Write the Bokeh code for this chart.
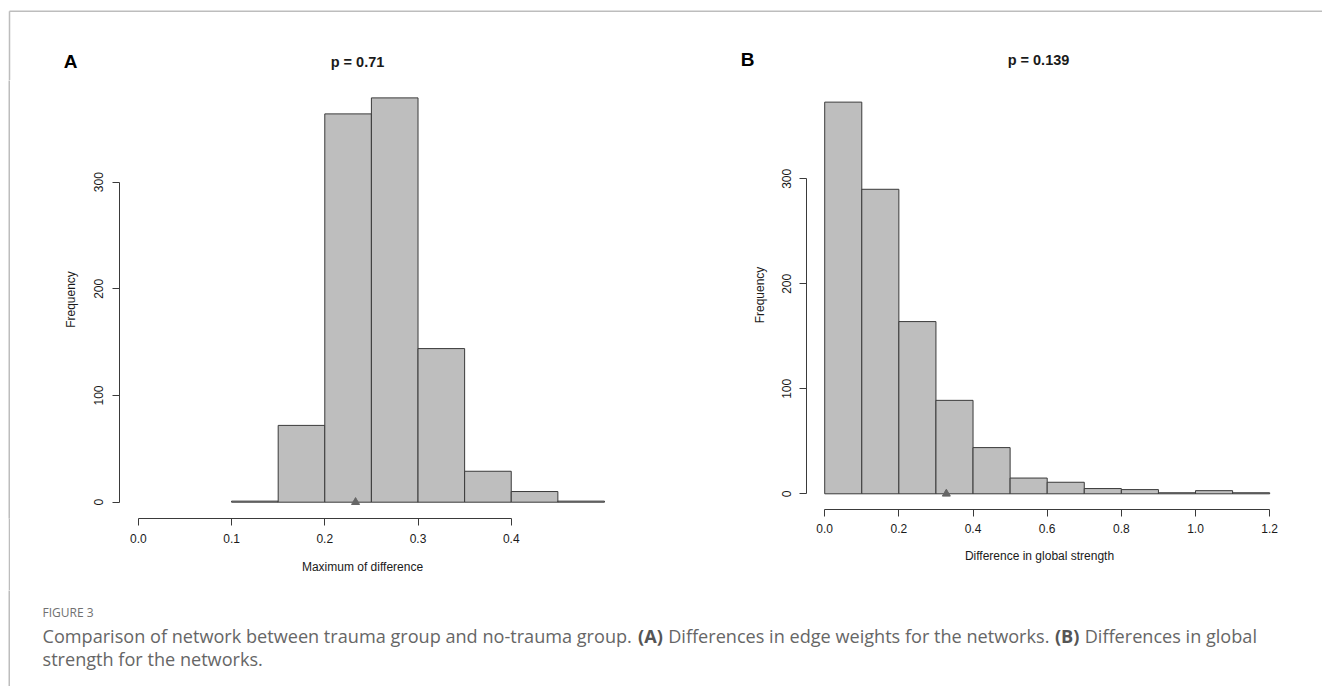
from bokeh.plotting import figure
from bokeh.models import Range1d, FixedTicker, NumeralTickFormatter, Label, Spacer
from bokeh.layouts import row, column
from bokeh.embed import file_html
from bokeh.resources import INLINE

# ---------------- data ----------------
a_edges = [0.10, 0.15, 0.20, 0.25, 0.30, 0.35, 0.40, 0.45, 0.50]
a_counts = [1, 72, 364, 379, 144, 29, 10, 1]
a_observed = 0.233
a_title = "p = 0.71"
a_letter = "A"
a_xticks = [0.0, 0.1, 0.2, 0.3, 0.4]
a_yticks = [0, 100, 200, 300]
a_xlabel = "Maximum of difference"

b_edges = [0.0, 0.1, 0.2, 0.3, 0.4, 0.5, 0.6, 0.7, 0.8, 0.9, 1.0, 1.1, 1.2]
b_counts = [373, 290, 164, 89, 44, 15, 11, 5, 4, 1, 3, 1]
b_observed = 0.328
b_title = "p = 0.139"
b_letter = "B"
b_xticks = [0.0, 0.2, 0.4, 0.6, 0.8, 1.0, 1.2]
b_yticks = [0, 100, 200, 300]
b_xlabel = "Difference in global strength"

y_label = "Frequency"

caption_head = "FIGURE 3"
caption_line1 = [("Comparison of network between trauma group and no-trauma group.", False),
                 ("(A)", True),
                 ("Differences in edge weights for the networks.", False),
                 ("(B)", True),
                 ("Differences in global", False)]
caption_line2 = [("strength for the networks.", False)]

# ---------------- style ----------------
FONT = "Liberation Sans"
CAP_FONT = "Open Sans"
INK = "#1a1a1a"
AXIS = "#3a3a3a"
BAR_FILL = "#bebebe"
BORDER = "#bdbdbd"
W, H = 1322, 686
HEAD_H = 80
ROW_H = 510
CAP_H = H - HEAD_H - ROW_H


def bare(width, height, xr, yr):
    p = figure(width=width, height=height, x_range=Range1d(*xr), y_range=Range1d(*yr),
               toolbar_location=None, output_backend="svg", min_border=0,
               x_axis_location=None, y_axis_location=None)
    p.outline_line_color = None
    p.grid.visible = False
    p.background_fill_color = "white"
    p.border_fill_color = "white"
    return p


def strip(height):
    s = figure(width=2, height=height, toolbar_location=None, output_backend="svg",
               min_border=0, x_axis_location=None, y_axis_location=None)
    s.outline_line_color = None
    s.grid.visible = False
    s.background_fill_color = BORDER
    s.border_fill_color = BORDER
    return s


def style_axis(ax, ticks, tick_std, lab_std, vertical=False):
    ax.ticker = FixedTicker(ticks=ticks)
    ax.bounds = (min(ticks), max(ticks))
    ax.axis_line_color = AXIS
    ax.axis_line_width = 1
    ax.major_tick_line_color = AXIS
    ax.major_tick_out = 7
    ax.major_tick_in = 0
    ax.minor_tick_line_color = None
    ax.major_label_text_font = FONT
    ax.major_label_text_font_size = "12px"
    ax.major_label_text_color = INK
    ax.major_label_standoff = tick_std
    ax.axis_label_text_font = FONT
    ax.axis_label_text_font_size = "12px"
    ax.axis_label_text_font_style = "normal"
    ax.axis_label_text_color = INK
    ax.axis_label_standoff = lab_std
    if vertical:
        ax.major_label_orientation = "vertical"


def panel(width, height, xr, yr, mb, edges, counts, observed, xticks, yticks,
          xlabel, xstd, ystd):
    p = figure(width=width, height=height, x_range=Range1d(*xr), y_range=Range1d(*yr),
               toolbar_location=None, output_backend="svg",
               min_border_left=mb[0], min_border_right=mb[1],
               min_border_top=mb[2], min_border_bottom=mb[3])
    p.outline_line_color = None
    p.grid.visible = False
    p.background_fill_color = "white"
    p.border_fill_color = "white"
    p.quad(left=edges[:-1], right=edges[1:], bottom=0, top=counts,
           fill_color=BAR_FILL, line_color=AXIS, line_width=1)
    p.scatter(x=[observed], y=[0], marker="triangle", size=8,
              fill_color="#666666", line_color="#666666")
    p.xaxis.axis_label = xlabel
    p.yaxis.axis_label = y_label
    p.xaxis.formatter = NumeralTickFormatter(format="0.0")
    style_axis(p.xaxis[0], xticks, xstd[0], xstd[1])
    style_axis(p.yaxis[0], yticks, ystd[0], ystd[1], vertical=True)
    return p


# panel A: frame x 119..605, y 80..518 (page px)
pA = panel(654, 510, (-0.0202, 0.5011), (-15.28, 395.3), (109, 59, 0, 72),
           a_edges, a_counts, a_observed, a_xticks, a_yticks, a_xlabel,
           (8, 14), (9, 14))

# panel B: frame x 806..1272, y 80..509
pB = panel(658, 501, (-0.0491, 1.2076), (-14.95, 393.6), (142, 50, 0, 72),
           b_edges, b_counts, b_observed, b_xticks, b_yticks, b_xlabel,
           (7, 13), (8, 13))

# ---------------- header (titles, panel letters, frame border) ----------------
head = bare(W, HEAD_H, (0, W), (HEAD_H, 0))
head.segment(x0=[9, 9], y0=[10.75, 10.75], x1=[W, 9], y1=[10.75, HEAD_H],
             line_color=BORDER, line_width=1.5)
for txt, x, y, size in [(a_letter, 70, 61, "19px"), (a_title, 357, 61, "14.5px"),
                        (b_letter, 747, 59, "19px"), (b_title, 1038, 59, "14.5px")]:
    head.add_layout(Label(x=x, y=y, text=txt, text_font=FONT, text_font_size=size,
                          text_font_style="bold", text_color="black" if len(txt) == 1 else INK,
                          text_align="center", text_baseline="middle"))

# ---------------- caption ----------------
OS_REG = {' ': 532, '-': 659, '.': 545, '(': 608, ')': 608, 'A': 1296, 'B': 1327,
          'C': 1292, 'D': 1493, 'a': 1139, 'b': 1255, 'c': 975, 'd': 1255, 'e': 1149,
          'f': 694, 'g': 1122, 'h': 1257, 'i': 518, 'k': 1075, 'l': 518, 'm': 1905,
          'n': 1257, 'o': 1237, 'p': 1255, 'r': 836, 's': 977, 't': 723, 'u': 1257,
          'w': 1593, 'y': 1026}
OS_BOLD = {'(': 694, ')': 694, 'A': 1479, 'B': 1436}


def em(s, bold):
    tot = 0
    for ch in s:
        w = OS_REG.get(ch, 1150)
        if bold:
            w = OS_BOLD.get(ch, w * 1.06)
        tot += w
    return tot / 2048.0


line1_em = sum(em(t, b) for t, b in caption_line1) + em(" ", False) * (len(caption_line1) - 1)
cap_x0 = 42
cap_fs = round(1215.0 / line1_em, 2)

top_c = HEAD_H + ROW_H
cap = bare(W - 10, CAP_H, (10, W), (H, top_c))
cap.add_layout(Label(x=cap_x0, y=612, text=caption_head, text_font=CAP_FONT,
                     text_font_size="12px", text_color="#707070",
                     text_align="left", text_baseline="middle"))


def put_line(parts, y):
    x = cap_x0
    for t, b in parts:
        cap.add_layout(Label(x=x, y=y, text=t, text_font=CAP_FONT,
                             text_font_size=f"{cap_fs}px",
                             text_font_style="bold" if b else "normal",
                             text_color="#555555" if b else "#666666",
                             text_align="left", text_baseline="middle"))
        x += (em(t, b) + em(" ", False)) * cap_fs


put_line(caption_line1, 635)
put_line(caption_line2, 658)

layout = column(head,
                row(Spacer(width=8, height=ROW_H), strip(ROW_H), pA, pB),
                row(Spacer(width=8, height=CAP_H), strip(CAP_H), cap))

open("out.html", "w").write(file_html(layout, INLINE))
